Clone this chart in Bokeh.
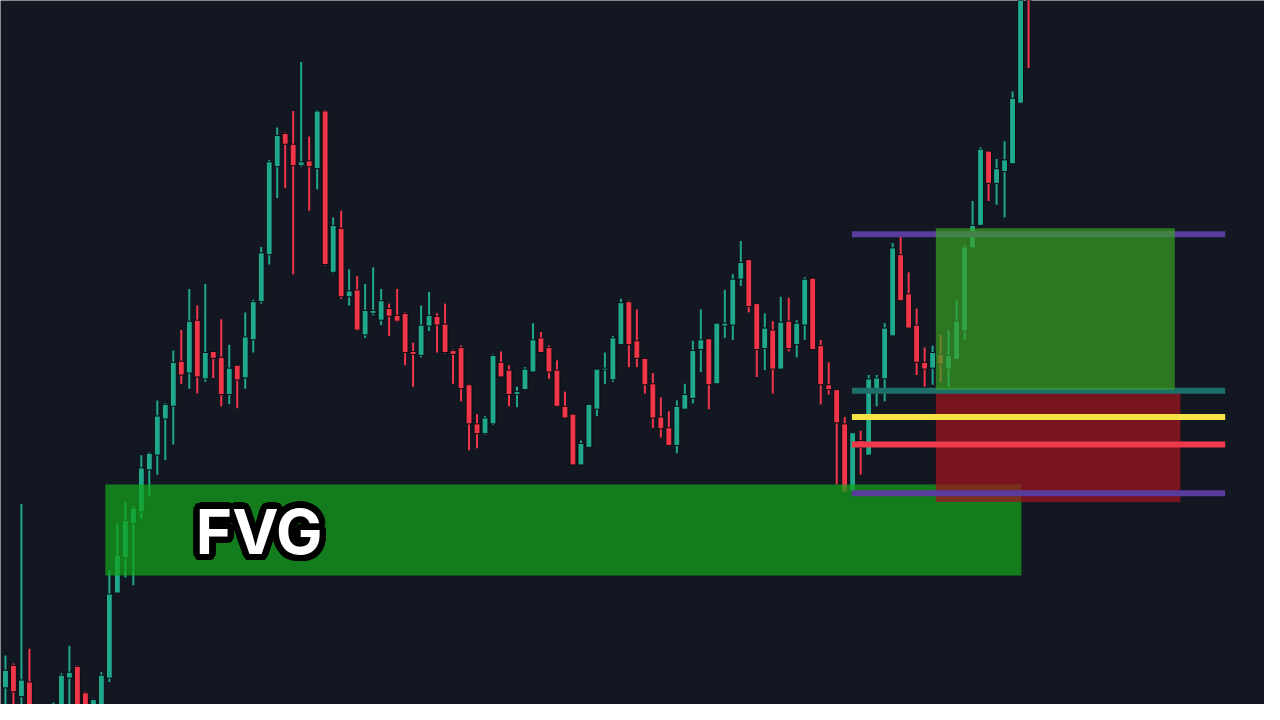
import numpy as np
from bokeh.plotting import figure
from bokeh.models import Range1d, Label
from bokeh.embed import file_html
from bokeh.resources import INLINE

# ---- candle data (price units) ----
opens = [17, 40, 8, 23, -5, -20, -10, -10, 27, 39, 12, -10, -5, 27, 114, 150, 185, 197, 240, 255,
         292, 305, 351, 339, 393, 333, 361, 355, 317, 347, 334, 373, 412, 460, 550, 584, 573, 551, 556, 548,
         607, 442, 487, 417, 424, 378, 400, 393, 405, 398, 400, 361, 357, 387, 397, 389, 362, 365, 327, 287,
         277, 287, 350, 342, 317, 322, 340, 375, 365, 342, 305, 297, 245, 263, 302, 342, 332, 368, 412, 372,
         354, 328, 294, 283, 265, 302, 313, 363, 374, 328, 387, 388, 435, 455, 410, 364, 383, 343, 392, 368,
         388, 436, 367, 327, 322, 287, 218, 270, 255, 323, 333, 377, 460, 420, 388, 350, 344, 358, 343, 353,
         382, 467, 490, 566, 533, 545, 553, 615, 770]
highs = [50, 42, 205, 57, 0, -2, 2, 32, 60, 40, 13, 6, 33, 137, 185, 207, 203, 255, 258, 311,
         308, 362, 383, 425, 408, 430, 361, 394, 368, 347, 401, 414, 468, 557, 590, 585, 607, 657, 581, 608,
         608, 498, 505, 445, 438, 430, 447, 425, 410, 425, 401, 370, 408, 422, 400, 410, 363, 367, 328, 297,
         295, 358, 361, 347, 325, 345, 390, 381, 367, 352, 320, 297, 270, 307, 343, 360, 377, 415, 413, 404,
         354, 339, 314, 300, 311, 328, 372, 404, 374, 390, 424, 440, 474, 455, 410, 400, 392, 417, 416, 393,
         437, 436, 373, 350, 322, 294, 278, 280, 337, 337, 390, 472, 478, 442, 405, 365, 367, 378, 383, 413,
         470, 515, 570, 566, 558, 576, 627, 760, 775]
lows = [-10, -10, -10, -15, -30, -35, -25, -20, -5, -10, -10, -15, -10, 23, 114, 130, 122, 190, 213, 235,
        250, 266, 328, 323, 318, 330, 334, 305, 307, 303, 323, 360, 410, 450, 518, 528, 440, 550, 505, 527,
        449, 441, 415, 408, 382, 375, 398, 388, 377, 391, 347, 325, 355, 382, 360, 359, 328, 310, 260, 262,
        276, 286, 335, 305, 304, 322, 340, 360, 333, 305, 293, 245, 245, 263, 295, 328, 330, 368, 345, 345,
        318, 283, 273, 265, 257, 302, 308, 340, 302, 328, 375, 373, 428, 401, 335, 342, 318, 343, 361, 355,
        373, 363, 307, 317, 225, 217, 218, 235, 255, 305, 310, 377, 413, 385, 337, 325, 327, 330, 325, 353,
        373, 467, 490, 515, 511, 498, 553, 615, 651]
closes = [35, 13, 25, -5, -20, -10, -3, 30, 33, -5, -5, 5, 30, 113, 153, 188, 201, 242, 257, 295,
          307, 350, 337, 392, 335, 360, 354, 317, 344, 332, 376, 412, 462, 555, 582, 573, 551, 555, 550, 607,
          450, 490, 417, 423, 383, 403, 403, 413, 397, 392, 360, 358, 388, 398, 388, 360, 358, 323, 287, 277,
          293, 357, 335, 317, 320, 343, 373, 360, 340, 305, 293, 245, 267, 307, 343, 344, 375, 411, 368, 354,
          327, 293, 282, 265, 305, 317, 362, 373, 327, 390, 390, 435, 452, 407, 363, 385, 343, 391, 364, 390,
          435, 363, 327, 322, 288, 217, 278, 263, 333, 334, 385, 467, 413, 385, 350, 343, 360, 348, 357, 392,
          468, 490, 568, 533, 548, 557, 620, 740, 740]

# ---- zones and levels ----
fvg_left, fvg_right, fvg_top, fvg_bottom = 12.5, 127.1, 225, 132
pos_left, pos_right_tp, pos_right_sl = 116.4, 146.3, 147.0
tp_price, entry_price, sl_price = 487, 322, 207
lines_left, lines_right = 105.9, 152.6
level_prices = [481, 321, 294, 266, 216]
level_colors = ["#5a3c9c", "#1e6f69", "#f6e445", "#ef3a4c", "#5a3c9c"]

BG = "#131722"
UP = "#1fa88e"
DOWN = "#f2364a"

o = np.array(opens, float); h = np.array(highs, float)
l = np.array(lows, float); c = np.array(closes, float)
idx = np.arange(len(o))
up = c >= o

p = figure(width=1264, height=704, output_backend="svg", toolbar_location=None,
           x_range=Range1d(-0.618, 157.52), y_range=Range1d(0, 720),
           background_fill_color=BG, border_fill_color=BG, min_border=0,
           outline_line_color=None)
p.axis.visible = False
p.grid.visible = False

cols = np.where(up, UP, DOWN)
p.segment(idx, h, idx, l, line_color=cols.tolist(), line_width=2)
p.vbar(x=idx, width=0.74, top=np.maximum(o, c), bottom=np.minimum(o, c),
       fill_color=cols.tolist(), line_color="#0b0d12", line_width=1)

# FVG zone over candles
p.quad(left=[fvg_left], right=[fvg_right], top=[fvg_top], bottom=[fvg_bottom],
       fill_color="#14a31a", fill_alpha=0.72, line_color=None)

# stop-loss box
p.quad(left=[pos_left], right=[pos_right_sl], top=[entry_price], bottom=[sl_price],
       fill_color="#9c161d", fill_alpha=0.75, line_color=None)

# levels
for pr, col in zip(level_prices, level_colors):
    p.segment([lines_left], [pr], [lines_right], [pr], line_color=col, line_width=6)

# take-profit box
p.quad(left=[pos_left], right=[pos_right_tp], top=[tp_price], bottom=[entry_price],
       fill_color="#3aa422", fill_alpha=0.68, line_color=None)

# FVG label with black outline
lx, ly = 31.75, 177
font = "Inter"
fs = "62px"
offs = []
for a in np.linspace(0, 2 * np.pi, 24, endpoint=False):
    offs.append((6.5 * np.cos(a), 6.5 * np.sin(a)))
offs.append((4, -5))
for dx, dy in offs:
    p.add_layout(Label(x=lx, y=ly, x_offset=dx, y_offset=dy, text="FVG", text_font=font,
                       text_font_size=fs, text_font_style="bold", text_color="black",
                       text_align="center", text_baseline="middle"))
p.add_layout(Label(x=lx, y=ly, text="FVG", text_font=font, text_font_size=fs,
                   text_font_style="bold", text_color="white",
                   text_align="center", text_baseline="middle"))

open("out.html", "w").write(file_html(p, INLINE))
